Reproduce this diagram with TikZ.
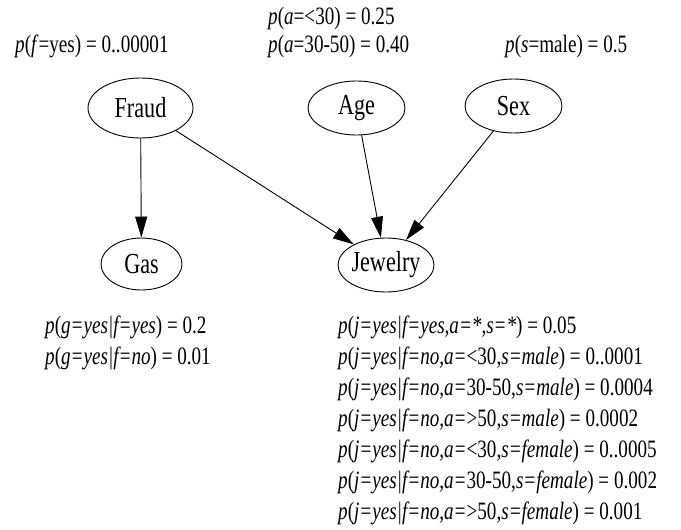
\documentclass[tikz,border=0pt]{standalone}
\usepackage{fontspec}
\setmainfont[FakeStretch=0.765]{Liberation Serif}
\usetikzlibrary{arrows.meta,shapes.geometric}
\begin{document}
\begin{tikzpicture}[x=1pt,y=-1pt,
  var/.style={draw=black, line width=0.9pt, ellipse, inner sep=0pt,
    font=\fontsize{29}{30}\selectfont},
  lbl/.style={anchor=west, inner sep=0pt, font=\fontsize{25}{30}\selectfont},
  edge/.style={line width=0.9pt, -{Triangle[length=21pt,width=12pt]}}]
\useasboundingbox (0,0) rectangle (681,530);
% nodes
\node[var, minimum width=105pt, minimum height=60pt] (fraud) at (140.5,108) {\makebox[0pt]{Fraud}};
\node[var, minimum width=97pt, minimum height=54pt] (age) at (356.5,108) {\makebox[0pt]{Age}};
\node[var, minimum width=97pt, minimum height=54pt] (sex) at (513.5,106) {\makebox[0pt]{Sex}};
\node[var, minimum width=81pt, minimum height=52pt] (gas) at (141.5,264) {\makebox[0pt]{Gas}};
\node[var, minimum width=96pt, minimum height=54pt] (jew) at (386,265) {\makebox[0pt]{Jewelry}};
% edges
\draw[edge] (fraud) -- (gas);
\draw[edge] (fraud) -- (jew);
\draw[edge] (age) -- (jew);
\draw[edge] (sex) -- (jew);
% top labels
\node[lbl] (pa1) at (268,18) {\textit{p}(\textit{a}=<30) = 0.25};
\node[lbl] (pa2) at (268,46) {\textit{p}(\textit{a}=30-50) = 0.40};
\node[lbl] (pf) at (15,46) {\textit{p}(\textit{f}=yes) = 0..00001};
\node[lbl] (ps) at (505,46) {\textit{p}(\textit{s}=male) = 0.5};
% gas table
\node[lbl] (g1) at (45,327) {\textit{p}(\textit{g=yes|f=yes}) = 0.2};
\node[lbl] (g2) at (45,358) {\textit{p}(\textit{g=yes|f=no}) = 0.01};
% jewelry table
\node[lbl] (r1) at (338,327) {\textit{p}(\textit{j=yes|f=yes,a=*,s=*}) = 0.05};
\node[lbl] (r2) at (338,358) {\textit{p}(\textit{j=yes|f=no,a=}<30,\textit{s=male}) = 0..0001};
\node[lbl] (r3) at (338,389) {\textit{p}(\textit{j=yes|f=no,a=}30-50,\textit{s=male}) = 0.0004};
\node[lbl] (r4) at (338,420) {\textit{p}(\textit{j=yes|f=no,a=}>50,\textit{s=male}) = 0.0002};
\node[lbl] (r5) at (338,451) {\textit{p}(\textit{j=yes|f=no,a=}<30,\textit{s=female}) = 0..0005};
\node[lbl] (r6) at (338,482) {\textit{p}(\textit{j=yes|f=no,a=}30-50,\textit{s=female}) = 0.002};
\node[lbl] (r7) at (338,513) {\textit{p}(\textit{j=yes|f=no,a=}>50,\textit{s=female}) = 0.001};
\end{tikzpicture}
\end{document}
